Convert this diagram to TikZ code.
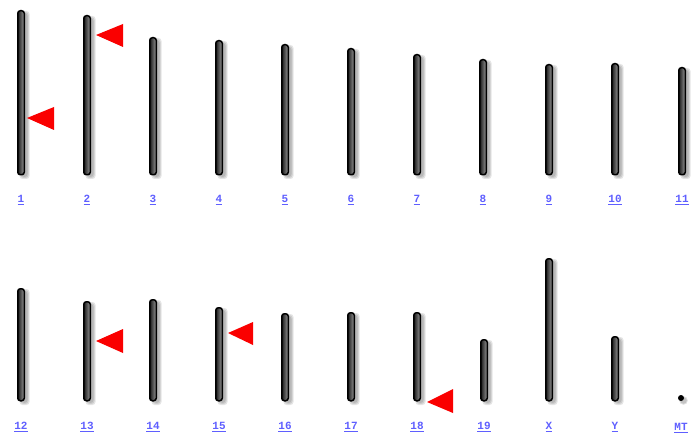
\documentclass[tikz,border=0pt]{standalone}
\usepackage{fontspec}
\newfontfamily\labfont{Liberation Mono}
\definecolor{linkblue}{RGB}{95,95,255}
\definecolor{hitred}{RGB}{250,0,0}
\begin{document}
\begin{tikzpicture}[x=1pt,y=-1pt,
  chrbar/.style={draw=black, line width=1.5pt, rounded corners=2.6pt, left color=black!90, right color=black!40, minimum width=6.5pt, inner sep=0pt, anchor=north},
  chrshadow/.style={fill=black, opacity=0.10, rounded corners=3pt},
  lab/.style={font=\labfont\bfseries\fontsize{11}{11}\selectfont, text=linkblue, inner sep=0pt},
  hit/.style={fill=hitred}]
\useasboundingbox (0,0) rectangle (691,441);
\fill[white] (0,0) rectangle (691,441);
\foreach \x/\t/\b/\l/\ly in {21/10/174/1/200, 87/15/174/2/200, 153/37/174/3/200, 219/40/174/4/200, 285/44/174/5/200, 351/48/174/6/200, 417/54/174/7/200, 483/59/174/8/200, 549/64/174/9/200, 615/63/174/10/200, 682/67/174/11/200,
  21/288/400/12/427, 87/301/400/13/427, 153/299/400/14/427, 219/307/400/15/427, 285/313/400/16/427, 351/312/400/17/427, 417/312/400/18/427, 484/339/400/19/427, 549/258/400/X/427, 615/336/400/Y/427} {
  \foreach \s in {0,1,2} {
    \fill[chrshadow] (\x+0.5-\s,\t+3-\s) rectangle (\x+6.5+\s,\b+3+\s);
  }
  \pgfmathsetmacro{\h}{\b-\t}
  \node[chrbar, minimum height=\h pt] (c\l) at (\x,\t) {};
  \node[lab] (l\l) at (\x,\ly) {\underline{\l}};
}
% mitochondrial chromosome: a dot
\foreach \s in {0,1} {\fill[black, opacity=0.12] (683.5,400.5) circle (3.3+\s);}
\node[circle, fill=black, minimum size=6pt, inner sep=0pt] (cMT) at (681,398) {};
\node[lab] (lMT) at (681,428) {\underline{MT}};
% red markers
\fill[hit] (27,118) -- (54,107) -- (54,130) -- cycle;
\fill[hit] (96,35) -- (123,24) -- (123,47) -- cycle;
\fill[hit] (96,341) -- (123,329) -- (123,353) -- cycle;
\fill[hit] (228,333) -- (253,322) -- (253,345) -- cycle;
\fill[hit] (427,402) -- (453,389) -- (453,413) -- cycle;
\end{tikzpicture}
\end{document}
